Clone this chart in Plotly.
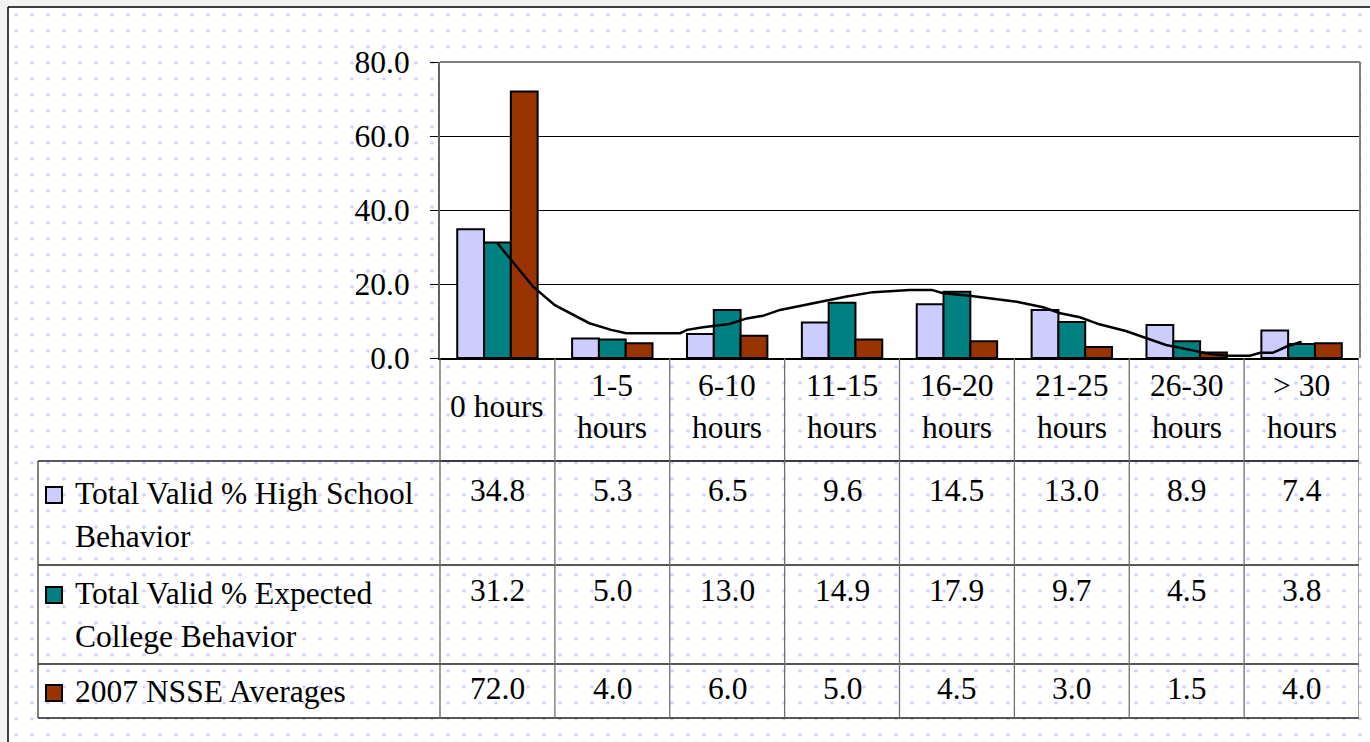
import textwrap
import numpy as np
import plotly.graph_objects as go

# ---------------- data ----------------
categories = ["0 hours", "1-5 hours", "6-10 hours", "11-15 hours",
              "16-20 hours", "21-25 hours", "26-30 hours", "> 30 hours"]
series_names = ["Total Valid % High School Behavior",
                "Total Valid % Expected College Behavior",
                "2007 NSSE Averages"]
high_school = [34.8, 5.3, 6.5, 9.6, 14.5, 13.0, 8.9, 7.4]
expected_college = [31.2, 5.0, 13.0, 14.9, 17.9, 9.7, 4.5, 3.8]
nsse_2007 = [72.0, 4.0, 6.0, 5.0, 4.5, 3.0, 1.5, 4.0]
# trend line, x in category units
trend_x = [0.0, 0.31, 0.5, 0.63, 0.8, 0.99, 1.12, 1.59, 1.65, 1.79, 2.02, 2.17,
           2.31, 2.46, 2.6, 2.89, 3.04, 3.27, 3.59, 3.78, 3.88, 4.11, 4.37,
           4.52, 4.75, 4.9, 5.07, 5.24, 5.47, 5.65, 5.82, 6.03, 6.2, 6.35,
           6.55, 6.64, 6.75, 6.87, 7.0]
trend_y = [31.0, 19.3, 14.3, 12.1, 9.4, 7.6, 6.7, 6.7, 7.6, 8.3, 9.2, 10.7,
           11.4, 13.0, 13.9, 15.7, 16.6, 17.8, 18.4, 18.4, 17.5, 16.8, 15.9,
           15.2, 13.7, 12.1, 11.0, 9.1, 7.3, 5.3, 3.5, 2.2, 1.1, 0.6,
           0.6, 1.4, 1.4, 3.1, 4.4]
y_ticks = [0, 20, 40, 60, 80]

series_values = [high_school, expected_college, nsse_2007]
series_colors = ["#CCCCFF", "#008080", "#993300"]

# ---------------- layout helpers ----------------
W, H = 1370, 742
FONT = "Liberation Serif"
FS = 31.5


def px(x):
    return x / W


def py(y):
    return 1 - y / H


PLOT_L, PLOT_R, PLOT_T, PLOT_B = 440, 1359, 62, 358
TABLE_L = 38
ROW_LINES = [461, 565, 664, 718]

xpos = np.arange(len(categories))

fig = go.Figure()

# dotted background (whole chart frame)
fig.add_trace(go.Bar(
    x=[0], y=[1], width=[1], xaxis="x", yaxis="y",
    marker=dict(color="white", line=dict(width=0),
                pattern=dict(shape=".", fgcolor="#a4a4f2", size=16, solidity=0.04)),
    hoverinfo="skip", showlegend=False))

# bars
for name, vals, col in zip(series_names, series_values, series_colors):
    fig.add_trace(go.Bar(
        x=xpos, y=vals, name=name, xaxis="x2", yaxis="y2",
        marker=dict(color=col, line=dict(color="black", width=2)),
        showlegend=False))

# trend line
fig.add_trace(go.Scatter(
    x=trend_x, y=trend_y, mode="lines", xaxis="x2", yaxis="y2",
    line=dict(color="black", width=2.5), showlegend=False, hoverinfo="skip"))

shapes = []
# white plot area (below bars, above dotted background)
shapes.append(dict(type="rect", xref="x2", yref="y2", x0=-0.5, x1=len(categories) - 0.5,
                   y0=0, y1=y_ticks[-1], fillcolor="white", line=dict(width=0),
                   layer="below"))
# plot area border (top/right grey)
shapes.append(dict(type="line", xref="paper", yref="paper", x0=px(PLOT_L), x1=px(PLOT_R + 1),
                   y0=py(PLOT_T), y1=py(PLOT_T), line=dict(color="#808080", width=2)))
shapes.append(dict(type="line", xref="paper", yref="paper", x0=px(PLOT_R + 1), x1=px(PLOT_R + 1),
                   y0=py(PLOT_T), y1=py(PLOT_B), line=dict(color="#808080", width=2)))

# table horizontal lines
shapes.append(dict(type="line", xref="paper", yref="paper", x0=px(PLOT_L), x1=px(PLOT_R),
                   y0=py(ROW_LINES[0]), y1=py(ROW_LINES[0]), line=dict(color="#202020", width=1)))
for yl in ROW_LINES:
    shapes.append(dict(type="line", xref="paper", yref="paper", x0=px(TABLE_L), x1=px(PLOT_R),
                       y0=py(yl), y1=py(yl), line=dict(color="#202020", width=1.3)))
# table vertical lines
shapes.append(dict(type="line", xref="paper", yref="paper", x0=px(TABLE_L), x1=px(TABLE_L),
                   y0=py(ROW_LINES[0]), y1=py(ROW_LINES[-1]), line=dict(color="#404040", width=1.3)))
shapes.append(dict(type="line", xref="paper", yref="paper", x0=px(PLOT_L), x1=px(PLOT_L),
                   y0=py(PLOT_B), y1=py(ROW_LINES[-1]), line=dict(color="#606060", width=1.3)))
for i in range(len(categories)):
    shapes.append(dict(type="line", xref="x2", yref="paper", x0=i + 0.5, x1=i + 0.5,
                       y0=py(PLOT_B), y1=py(ROW_LINES[-1]), line=dict(color="#707070", width=1.3)))

# outer frame
shapes.append(dict(type="line", xref="paper", yref="paper", x0=px(8), x1=1,
                   y0=py(7), y1=py(7), line=dict(color="black", width=1.5)))
shapes.append(dict(type="line", xref="paper", yref="paper", x0=px(8), x1=px(8),
                   y0=py(7), y1=0, line=dict(color="black", width=1.5)))

annotations = []
# category labels
for i, cat in enumerate(categories):
    lines = textwrap.wrap(cat, 7)
    cy = (PLOT_B + ROW_LINES[0]) / 2 - 3
    start = cy - (len(lines) - 1) * 43 / 2
    for k, ln in enumerate(lines):
        annotations.append(dict(x=i, xref="x2", y=py(start + k * 43), yref="paper",
                                text=ln, showarrow=False, xanchor="center", yanchor="middle",
                                font=dict(family=FONT, size=FS, color="black")))

# row labels, swatches and values
row_first_line = [493, 593, 691]
for r, (name, vals, col) in enumerate(zip(series_names, series_values, series_colors)):
    y0 = row_first_line[r]
    for k, ln in enumerate(textwrap.wrap(name, 25)):
        annotations.append(dict(x=px(73), xref="paper", y=py(y0 + k * 43), yref="paper",
                                text=ln, showarrow=False, xanchor="left", yanchor="middle",
                                font=dict(family=FONT, size=FS, color="black")))
    shapes.append(dict(type="rect", xref="paper", yref="paper",
                       x0=px(46), x1=px(62), y0=py(y0 - 6), y1=py(y0 + 10),
                       fillcolor=col, line=dict(color="black", width=2)))
    for i, v in enumerate(vals):
        annotations.append(dict(x=i, xref="x2", y=py(y0 - 3), yref="paper",
                                text=f"{v:.1f}", showarrow=False, xanchor="center",
                                yanchor="middle",
                                font=dict(family=FONT, size=FS, color="black")))

fig.update_layout(
    width=W, height=H, autosize=False,
    margin=dict(l=0, r=0, t=0, b=0, pad=0, autoexpand=False),
    paper_bgcolor="#f3f3f3",
    plot_bgcolor="rgba(0,0,0,0)",
    barmode="group", bargap=0.3, bargroupgap=0,
    font=dict(family=FONT, size=FS, color="black"),
    xaxis=dict(domain=[px(8), 1], range=[-0.5, 0.5], visible=False, fixedrange=True),
    yaxis=dict(domain=[0, py(7)], range=[0, 1], visible=False, fixedrange=True),
    xaxis2=dict(domain=[px(PLOT_L), px(PLOT_R)], range=[-0.5, len(categories) - 0.5],
                anchor="y2", showticklabels=False, ticks="", showgrid=False, zeroline=False,
                showline=True, linecolor="black", linewidth=2),
    yaxis2=dict(domain=[py(PLOT_B), py(PLOT_T)], range=[0, y_ticks[-1]], anchor="x2",
                tickvals=y_ticks, tickformat=".1f", ticks="outside", ticklen=8,
                tickcolor="black", tickwidth=1, showgrid=True, gridcolor="black",
                gridwidth=1, zeroline=False, showline=True, linecolor="#606060",
                linewidth=2, ticklabelstandoff=14,
                tickfont=dict(family=FONT, size=FS, color="black")),
    shapes=shapes,
    annotations=annotations,
)

fig.write_html("out.html", config={"displayModeBar": False},
               post_script="document.body.style.margin='0';")
